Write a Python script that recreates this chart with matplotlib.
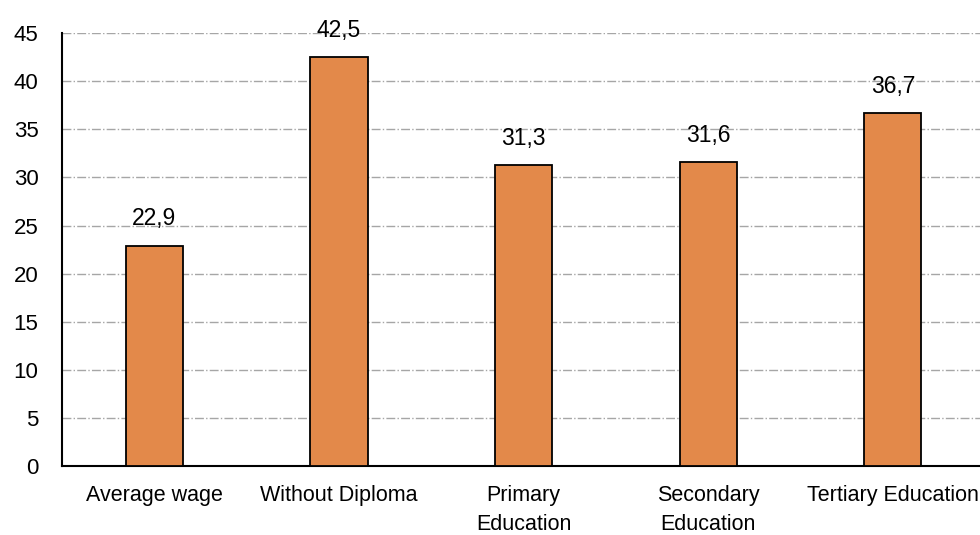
import matplotlib
matplotlib.use('Agg')
import matplotlib.pyplot as plt

categories = ['Average wage', 'Without Diploma', 'Primary\nEducation',
              'Secondary\nEducation', 'Tertiary Education']
values = [22.9, 42.5, 31.3, 31.6, 36.7]
yticks = [0, 5, 10, 15, 20, 25, 30, 35, 40, 45]

plt.rcParams['font.family'] = ['Liberation Sans', 'DejaVu Sans']

fig = plt.figure(figsize=(9.8, 5.35), dpi=100)
ax = fig.add_axes([0.0633, 0.129, 0.942, 0.809])

x = range(len(categories))
bars = ax.bar(x, values, width=0.31, color='#E3894A', edgecolor='black',
              linewidth=1.3, zorder=3)

for b, v in zip(bars, values):
    ax.annotate(f'{v:.1f}'.replace('.', ','),
                (b.get_x() + b.get_width() / 2, v),
                xytext=(0, 11), textcoords='offset points',
                ha='center', va='bottom', fontsize=16.5)

ax.set_xlim(-0.5, 4.5)
ax.set_ylim(0, 45)
ax.set_yticks(yticks)
ax.set_xticks(list(x))
ax.set_xticklabels(categories, fontsize=15.5, linespacing=1.45)
ax.tick_params(axis='y', length=0, pad=17, labelsize=16)
ax.tick_params(axis='x', length=0, pad=14)

ax.yaxis.grid(True, color='#A6A6A6', linestyle='-.', linewidth=1, zorder=0)
ax.spines['top'].set_visible(False)
ax.spines['right'].set_visible(False)
ax.spines['left'].set_linewidth(1.5)
ax.spines['bottom'].set_linewidth(1.5)

fig.savefig('out.png', dpi=100)
